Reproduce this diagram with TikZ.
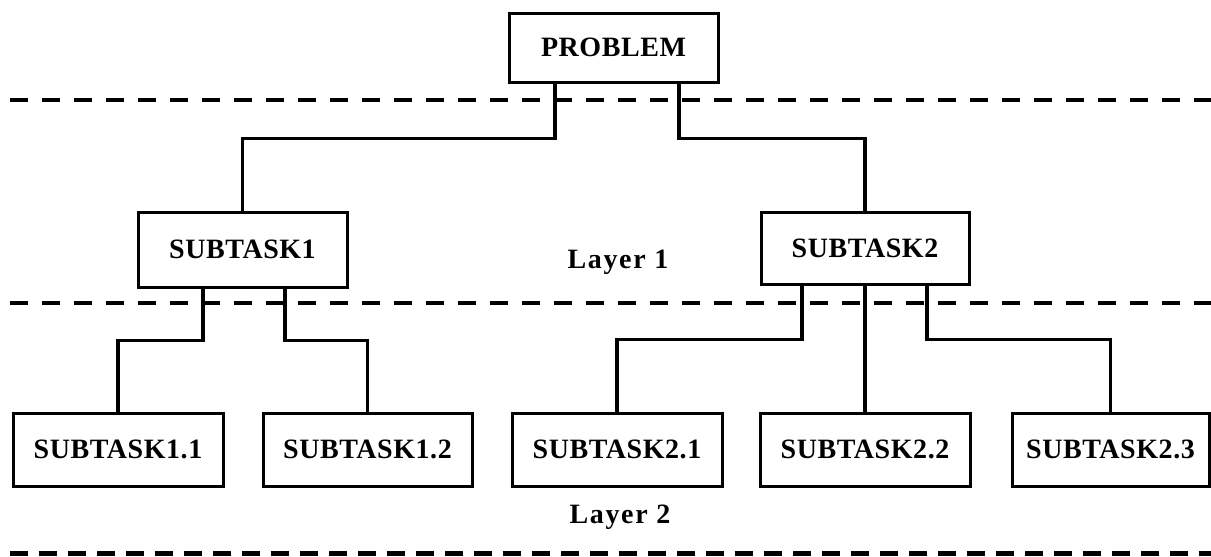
\documentclass[tikz,border=0pt]{standalone}
\usepackage{fontspec}
\setmainfont{Liberation Serif}[LetterSpace=2]
\begin{document}
\begin{tikzpicture}[x=1pt,y=-1pt,
  box/.style={draw=black,line width=3pt,inner sep=0pt,font=\fontsize{28}{30}\selectfont\bfseries},
  conn/.style={line width=3.5pt,line cap=rect},
  layerdash/.style={line width=4pt,dash pattern=on 18pt off 14pt},
  lbl/.style={inner sep=0pt,font=\fontsize{28}{30}\selectfont\bfseries\addfontfeatures{LetterSpace=6}}]
\useasboundingbox (0,0) rectangle (1211,557);
% dashed layer separators
\coordinate (d1a) at (10,100); \coordinate (d1b) at (1211,100);
\coordinate (d2a) at (10,303); \coordinate (d2b) at (1211,303);
\coordinate (d3a) at (10,553); \coordinate (d3b) at (1211,553);
\draw[layerdash] (d1a) -- (d1b);
\draw[layerdash] (d2a) -- (d2b);
\draw[layerdash,line width=5pt,dash pattern=on 18pt off 11pt] (d3a) -- (d3b);
% nodes
\node[box,minimum width=209pt,minimum height=69pt] (P) at (613.5,47.5) {PROBLEM};
\node[box,minimum width=209pt,minimum height=75pt] (s1) at (242.5,249.5) {SUBTASK1};
\node[box,minimum width=208pt,minimum height=72pt] (s2) at (865,248) {SUBTASK2};
\node[box,minimum width=210pt,minimum height=73pt] (b11) at (118,449.5) {SUBTASK1.1};
\node[box,minimum width=209pt,minimum height=73pt] (b12) at (367.5,449.5) {SUBTASK1.2};
\node[box,minimum width=210pt,minimum height=73pt] (b21) at (617,449.5) {SUBTASK2.1};
\node[box,minimum width=210pt,minimum height=73pt] (b22) at (865,449.5) {SUBTASK2.2};
\node[box,minimum width=197pt,minimum height=73pt] (b23) at (1110.5,449.5) {SUBTASK2.3};
\node[lbl] (L1) at (618,262) {Layer 1};
\node[lbl] (L2) at (620,517) {Layer 2};
% connector x positions
\coordinate (xa) at (555,0); \coordinate (xb) at (679,0);
\coordinate (xc) at (203,0); \coordinate (xd) at (285,0);
\coordinate (xe) at (802,0); \coordinate (xf) at (927,0);
% connectors
\draw[conn] (P.south -| xa) -- ++(0,55) -| (s1.north);
\draw[conn] (P.south -| xb) -- ++(0,55) -| (s2.north);
\draw[conn] (s1.south -| xc) -- ++(0,52) -| (b11.north);
\draw[conn] (s1.south -| xd) -- ++(0,52) -| (b12.north);
\draw[conn] (s2.south -| xe) -- ++(0,54) -| (b21.north);
\draw[conn] (s2.south) -- (b22.north);
\draw[conn] (s2.south -| xf) -- ++(0,54) -| (b23.north);
\end{tikzpicture}
\end{document}
